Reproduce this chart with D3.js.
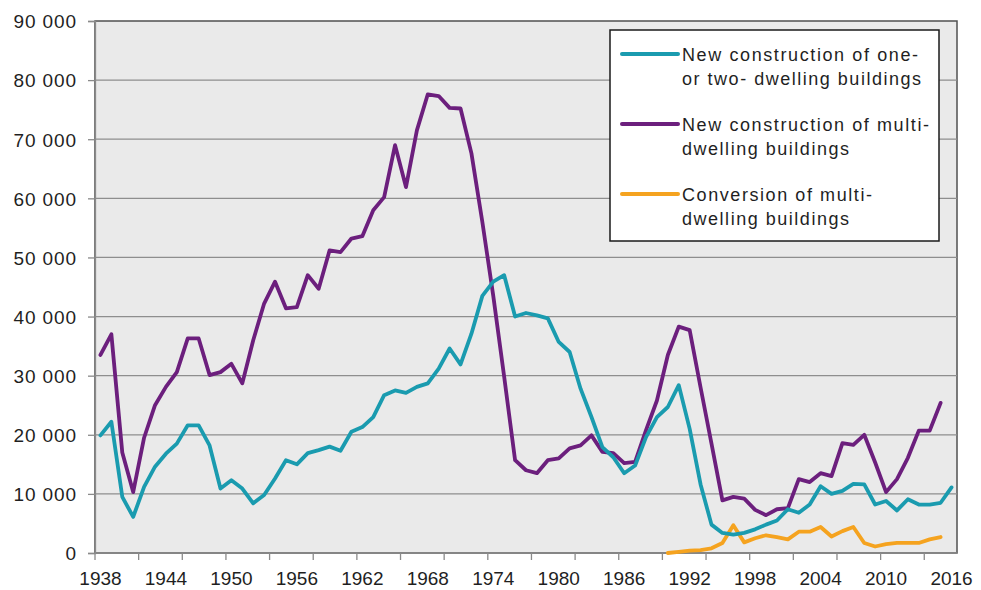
<!DOCTYPE html>
<html lang="en">
<head>
<meta charset="UTF-8">
<title>Completed dwellings by type of building</title>
<script src="https://d3js.org/d3.v7.min.js"></script>
<style>
  body { margin: 0; background: #fff; font-family: 'Liberation Sans', Arial, sans-serif; }
  svg { display: block; }
  .grid line { stroke: #8e8e8e; stroke-width: 1.3; }
  .axis text { fill: #1f1f1f; font-size: 19px; }
  .axis line, .axis path { stroke: #8a8a8a; stroke-width: 1.3; }
  .series { fill: none; stroke-width: 3.8; stroke-linejoin: round; stroke-linecap: round; }
  .legend text { fill: #1f1f1f; font-size: 18px; }
</style>
</head>
<body>
<svg width="981" height="590"></svg>
<script>
const years = [1938, 1939, 1940, 1941, 1942, 1943, 1944, 1945, 1946, 1947,
  1948, 1949, 1950, 1951, 1952, 1953, 1954, 1955, 1956, 1957,
  1958, 1959, 1960, 1961, 1962, 1963, 1964, 1965, 1966, 1967,
  1968, 1969, 1970, 1971, 1972, 1973, 1974, 1975, 1976, 1977,
  1978, 1979, 1980, 1981, 1982, 1983, 1984, 1985, 1986, 1987,
  1988, 1989, 1990, 1991, 1992, 1993, 1994, 1995, 1996, 1997,
  1998, 1999, 2000, 2001, 2002, 2003, 2004, 2005, 2006, 2007,
  2008, 2009, 2010, 2011, 2012, 2013, 2014, 2015, 2016];

// New construction of one- or two-dwelling buildings, 1938-2016
const oneTwoDwelling = [19900, 22200, 9500, 6100, 11200, 14600, 16800, 18500, 21600, 21600,
  18200, 10900, 12300, 10900, 8400, 9800, 12600, 15700, 15000, 16900,
  17400, 18000, 17300, 20500, 21300, 23000, 26700, 27500, 27100, 28100,
  28700, 31200, 34600, 31900, 37100, 43500, 45900, 47000, 40000, 40600,
  40200, 39700, 35700, 34000, 27800, 23000, 17900, 16200, 13500, 14800,
  19600, 23000, 24700, 28400, 21000, 11600, 4800, 3400, 3100, 3400,
  4000, 4800, 5500, 7400, 6800, 8200, 11300, 10000, 10500, 11700,
  11600, 8200, 8800, 7200, 9100, 8200, 8200, 8500, 11100];

// New construction of multi-dwelling buildings, 1938-2015
const multiDwelling = [33500, 37000, 17000, 10300, 19500, 25000, 28100, 30600, 36300, 36300,
  30100, 30600, 32000, 28700, 36000, 42200, 45900, 41400, 41600, 47000,
  44700, 51200, 50900, 53200, 53600, 58000, 60200, 69000, 61900, 71500,
  77600, 77300, 75300, 75200, 67600, 56000, 43500, 29800, 15700, 14000,
  13500, 15700, 16000, 17700, 18200, 19900, 17100, 16900, 15200, 15400,
  20800, 25800, 33500, 38300, 37700, 28000, 18500, 8900, 9500, 9200,
  7300, 6400, 7400, 7600, 12500, 12000, 13500, 13000, 18600, 18300,
  20000, 15300, 10300, 12500, 16100, 20700, 20700, 25400];

// Conversion of multi-dwelling buildings, 1990-2015
const conversionYears = [1990, 1991, 1992, 1993, 1994, 1995, 1996, 1997, 1998, 1999,
  2000, 2001, 2002, 2003, 2004, 2005, 2006, 2007, 2008, 2009,
  2010, 2011, 2012, 2013, 2014, 2015];
const conversion = [0, 200, 400, 500, 800, 1700, 4700, 1800, 2500, 3000,
  2700, 2300, 3600, 3600, 4400, 2800, 3700, 4400, 1700, 1100,
  1500, 1700, 1700, 1700, 2300, 2700];

const yTicks = [0, 10000, 20000, 30000, 40000, 50000, 60000, 70000, 80000, 90000];
const xLabelYears = [1938, 1944, 1950, 1956, 1962, 1968, 1974, 1980, 1986, 1992, 1998, 2004, 2010, 2016];
const xTickYears = [1938, 1942, 1946, 1950, 1954, 1958, 1962, 1966, 1970, 1974,
  1978, 1982, 1986, 1990, 1994, 1998, 2002, 2006, 2010, 2014];

const seriesNames = [
  ["New construction of one-", "or two- dwelling buildings"],
  ["New construction of multi-", "dwelling buildings"],
  ["Conversion of multi-", "dwelling buildings"]
];
const colors = ["#1a9baf", "#6c1f7d", "#f5a31f"];

const margin = { top: 21, right: 24, bottom: 37, left: 95 };
const width = 981 - margin.left - margin.right;
const height = 590 - margin.top - margin.bottom;

const svg = d3.select("svg");
const g = svg.append("g").attr("transform", `translate(${margin.left},${margin.top})`);

const x = d3.scaleBand().domain(years).range([0, width]).padding(0);
const y = d3.scaleLinear().domain([0, 90000]).range([height, 0]);
const cx = yr => x(yr) + x.bandwidth() / 2;

// plot background + frame
g.append("rect")
  .attr("width", width).attr("height", height)
  .attr("fill", "#eaeaea").attr("stroke", "#505050").attr("stroke-width", 1.5);

g.append("g").attr("class", "grid")
  .selectAll("line")
  .data(yTicks.filter(d => d > 0 && d < 90000))
  .join("line")
  .attr("x1", 0).attr("x2", width)
  .attr("y1", d => y(d)).attr("y2", d => y(d));

const fmt = d3.formatLocale({ decimal: ",", thousands: " ", grouping: [3], currency: ["", ""] }).format(",");

const yAxis = g.append("g").attr("class", "axis")
  .call(d3.axisLeft(y).tickValues(yTicks).tickSize(7).tickPadding(11).tickFormat(fmt));
yAxis.selectAll("text").attr("dy", "0.36em").style("letter-spacing", "0.9px");

// x axis: tick marks every 4 categories, labels every 6 years
const xAxis = g.append("g").attr("class", "axis").attr("transform", `translate(0,${height})`);
xAxis.append("line").attr("x1", 0).attr("x2", width);
xAxis.selectAll(".xt").data(xTickYears).join("line")
  .attr("class", "xt")
  .attr("x1", d => x(d)).attr("x2", d => x(d))
  .attr("y1", 0).attr("y2", 7);
xAxis.selectAll("text").data(xLabelYears).join("text")
  .attr("x", d => cx(d)).attr("y", 32)
  .attr("text-anchor", "middle")
  .text(d => d);

const line = d3.line().x(d => cx(d[0])).y(d => y(d[1]));

const seriesData = [
  years.map((yr, i) => [yr, oneTwoDwelling[i]]),
  multiDwelling.map((v, i) => [years[i], v]),
  conversionYears.map((yr, i) => [yr, conversion[i]])
];

// draw conversion first so the others sit over it
[2, 1, 0].forEach(k => {
  g.append("path")
    .attr("class", "series")
    .attr("stroke", colors[k])
    .attr("d", line(seriesData[k]));
});

// legend
const legend = svg.append("g").attr("class", "legend");
legend.append("rect")
  .attr("x", 610).attr("y", 30).attr("width", 329).attr("height", 211)
  .attr("fill", "#fff").attr("stroke", "#1a1a1a").attr("stroke-width", 1.5);

const textLengths = [[236, 239], [247, 167], [190, 167]];
seriesNames.forEach((lines, k) => {
  const cyLine = 54 + k * 70;
  legend.append("line")
    .attr("x1", 622).attr("x2", 678)
    .attr("y1", cyLine).attr("y2", cyLine)
    .attr("stroke", colors[k]).attr("stroke-width", 4).attr("stroke-linecap", "round");
  lines.forEach((t, j) => {
    legend.append("text")
      .attr("x", 682).attr("y", cyLine + 6.5 + j * 24)
      .attr("textLength", textLengths[k][j])
      .attr("lengthAdjust", "spacing")
      .text(t);
  });
});
</script>
</body>
</html>
